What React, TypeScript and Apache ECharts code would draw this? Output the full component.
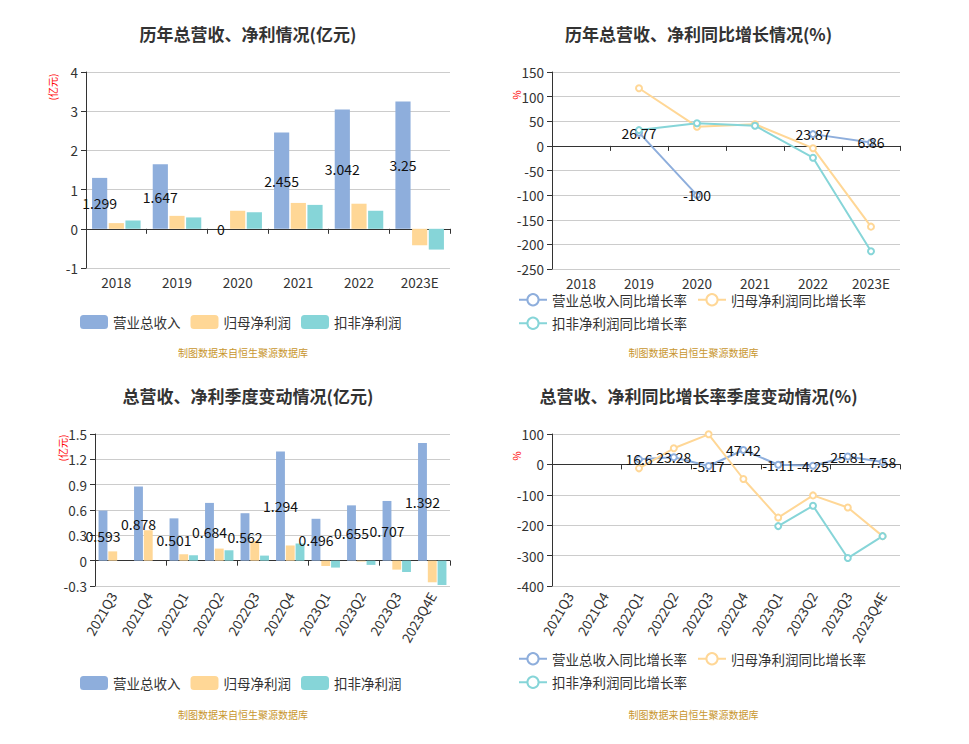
import React, { useEffect, useRef } from 'react';
import * as echarts from 'echarts';

const years = ['2018', '2019', '2020', '2021', '2022', '2023E'];
const revenue = [1.299, 1.647, 0, 2.455, 3.042, 3.25];
const netProfit = [0.145, 0.33, 0.46, 0.66, 0.64, -0.42];
const deductedProfit = [0.21, 0.29, 0.42, 0.61, 0.46, -0.53];

const revenueGrowth = [null, 26.77, -100, null, 23.87, 6.86];
const netGrowth = [null, 117, 39, 44, -4.7, -164];
const deductedGrowth = [null, 32, 46, 41, -24, -214];

const quarters = ['2021Q3', '2021Q4', '2022Q1', '2022Q2', '2022Q3', '2022Q4', '2023Q1', '2023Q2', '2023Q3', '2023Q4E'];
const qRevenue = [0.593, 0.878, 0.501, 0.684, 0.562, 1.294, 0.496, 0.655, 0.707, 1.392];
const qNet = [0.11, 0.36, 0.076, 0.143, 0.234, 0.18, -0.063, -0.01, -0.106, -0.256];
const qDeducted = [null, null, 0.064, 0.123, 0.06, 0.203, -0.082, -0.05, -0.134, -0.288];

const qRevenueGrowth = [null, null, 16.6, 23.28, -5.17, 47.42, -1.11, -4.25, 25.81, 7.58];
const qNetGrowth = [null, null, -13, 53, 99, -48, -175, -102, -142, -236];
const qDeductedGrowth = [null, null, null, null, null, null, -203, -136, -308, -236];

const barNames = ['营业总收入', '归母净利润', '扣非净利润'];
const lineNames = ['营业总收入同比增长率', '归母净利润同比增长率', '扣非净利润同比增长率'];
const titles = [
  '历年总营收、净利情况(亿元)',
  '历年总营收、净利同比增长情况(%)',
  '总营收、净利季度变动情况(亿元)',
  '总营收、净利同比增长率季度变动情况(%)',
];
const sourceText = '制图数据来自恒生聚源数据库';

const FONT = '"Noto Sans CJK SC", "Noto Sans", sans-serif';
const C_BLUE = '#8eaedc';
const C_YELLOW = '#ffd796';
const C_TEAL = '#86d5d8';

export default function App() {
  const ref = useRef<HTMLDivElement>(null);

  useEffect(() => {
    document.body.style.margin = '0';
    if (!ref.current) return;
    const chart = echarts.init(ref.current, null, { renderer: 'svg' });

    const grids = [
      { left: 86, top: 72, width: 364, height: 196 },
      { left: 552, top: 72, width: 348, height: 197 },
      { left: 95, top: 434, width: 355, height: 152 },
      { left: 552, top: 434, width: 348, height: 152 },
    ];
    const cats = [years, years, quarters, quarters];

    const xAxis: any[] = [];
    cats.forEach((c, i) => {
      const rotate = i >= 2 ? 60 : 0;
      xAxis.push({
        type: 'category',
        gridIndex: i,
        data: c,
        position: 'bottom',
        axisLine: { show: false, onZero: false },
        axisTick: { show: false },
        axisLabel: { color: '#333', fontSize: 13.5, lineHeight: 13, margin: 7, fontFamily: FONT, rotate, interval: 0 },
        splitLine: { show: false },
      });
      xAxis.push({
        type: 'category',
        gridIndex: i,
        data: c,
        position: 'bottom',
        axisLine: { show: true, onZero: true, lineStyle: { color: '#333', width: 1 } },
        axisTick: { show: true, length: 5, lineStyle: { color: '#333' } },
        axisLabel: { show: false },
        splitLine: { show: false },
      });
    });

    const yBase = (min: number, max: number, interval: number) => ({
      type: 'value',
      min,
      max,
      interval,
      axisLine: { show: true, lineStyle: { color: '#333' } },
      axisTick: { show: true, length: 5, lineStyle: { color: '#333' } },
      axisLabel: { color: '#333', fontSize: 13.5, lineHeight: 14, fontFamily: FONT },
      splitLine: { show: true, lineStyle: { color: '#ccc' } },
    });
    const yAxis = [
      { ...yBase(-1, 4, 1), gridIndex: 0 },
      { ...yBase(-250, 150, 50), gridIndex: 1 },
      { ...yBase(-0.3, 1.5, 0.3), gridIndex: 2 },
      { ...yBase(-400, 100, 100), gridIndex: 3 },
    ];

    const valueLabel = { color: '#111', fontSize: 14, fontFamily: FONT };

    const barSeries = (gi: number, rev: any[], net: any[], ded: any[]) => [
      {
        name: barNames[0], type: 'bar', xAxisIndex: gi * 2, yAxisIndex: gi, data: rev,
        itemStyle: { color: C_BLUE }, barGap: '10%', barCategoryGap: '20%',
        label: { show: true, position: 'inside', ...valueLabel },
      },
      { name: barNames[1], type: 'bar', xAxisIndex: gi * 2, yAxisIndex: gi, data: net, itemStyle: { color: C_YELLOW } },
      { name: barNames[2], type: 'bar', xAxisIndex: gi * 2, yAxisIndex: gi, data: ded, itemStyle: { color: C_TEAL } },
    ];
    const lineCommon = { type: 'line', symbol: 'emptyCircle', symbolSize: 6, connectNulls: false };
    const lineSeries = (gi: number, a: any[], b: any[], c: any[]) => [
      {
        ...lineCommon, name: lineNames[0], xAxisIndex: gi * 2, yAxisIndex: gi, data: a,
        itemStyle: { color: C_BLUE }, lineStyle: { color: C_BLUE, width: 2 },
        label: { show: true, position: 'inside', ...valueLabel },
      },
      {
        ...lineCommon, name: lineNames[1], xAxisIndex: gi * 2, yAxisIndex: gi, data: b,
        itemStyle: { color: C_YELLOW }, lineStyle: { color: C_YELLOW, width: 2 },
      },
      {
        ...lineCommon, name: lineNames[2], xAxisIndex: gi * 2, yAxisIndex: gi, data: c,
        itemStyle: { color: C_TEAL }, lineStyle: { color: C_TEAL, width: 2 },
      },
    ];

    const legendCommon = {
      itemWidth: 28,
      itemHeight: 14,
      itemGap: 10,
      textStyle: { color: '#333', fontSize: 13.5, lineHeight: 13, fontFamily: FONT },
    };

    const centers = [243, 693.5, 243, 693.5];
    const titleTops = [20, 20, 382, 382];
    const sourceYs = [352, 352, 714, 714];

    const option: any = {
      animation: false,
      backgroundColor: '#fff',
      title: titles.map((t, i) => ({
        text: t,
        left: centers[i],
        top: titleTops[i],
        textAlign: 'center',
        textStyle: { color: '#333', fontSize: 17, fontWeight: 'bold', fontFamily: FONT },
      })),
      legend: [
        { ...legendCommon, data: barNames, left: 75, top: 310 },
        { ...legendCommon, data: lineNames, left: 513, top: 288, width: 390 },
        { ...legendCommon, data: barNames, left: 75, top: 671 },
        { ...legendCommon, data: lineNames, left: 513, top: 647, width: 390 },
      ],
      grid: grids,
      xAxis,
      yAxis,
      series: [
        ...barSeries(0, revenue, netProfit, deductedProfit),
        ...lineSeries(1, revenueGrowth, netGrowth, deductedGrowth),
        ...barSeries(2, qRevenue, qNet, qDeducted),
        ...lineSeries(3, qRevenueGrowth, qNetGrowth, qDeductedGrowth),
      ],
      graphic: [
        ...centers.map((cx, i) => ({
          type: 'text', x: cx, y: sourceYs[i],
          style: { text: sourceText, fill: '#c8962e', font: `10px ${FONT}`, align: 'center', verticalAlign: 'middle' },
        })),
        { type: 'text', x: 52, y: 87, rotation: Math.PI / 2,
          style: { text: '(亿元)', fill: '#ff0000', font: `10px ${FONT}`, align: 'center', verticalAlign: 'middle' } },
        { type: 'text', x: 516, y: 95, rotation: Math.PI / 2,
          style: { text: '%', fill: '#ff0000', font: `10px ${FONT}`, align: 'center', verticalAlign: 'middle' } },
        { type: 'text', x: 62, y: 448, rotation: Math.PI / 2,
          style: { text: '(亿元)', fill: '#ff0000', font: `10px ${FONT}`, align: 'center', verticalAlign: 'middle' } },
        { type: 'text', x: 516, y: 456, rotation: Math.PI / 2,
          style: { text: '%', fill: '#ff0000', font: `10px ${FONT}`, align: 'center', verticalAlign: 'middle' } },
      ],
    };

    chart.setOption(option);
    return () => chart.dispose();
  }, []);

  return <div ref={ref} style={{ width: 969, height: 744 }} />;
}
